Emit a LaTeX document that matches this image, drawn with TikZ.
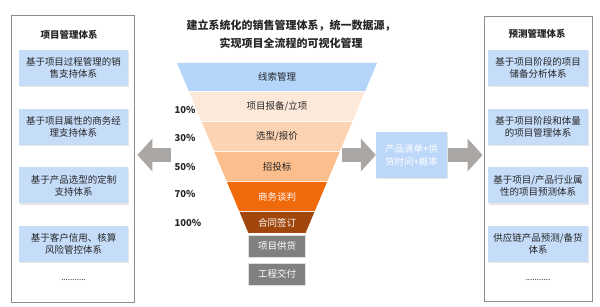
\documentclass[tikz,border=0pt]{standalone}
\usepackage{fontspec}
\setmainfont{Noto Sans CJK SC}
\usetikzlibrary{arrows.meta,positioning,shadows}

\definecolor{boxblue}{HTML}{C6DDFA}
\definecolor{midblue}{HTML}{BDD7F9}
\definecolor{layerA}{HTML}{B5D4F9}
\definecolor{layerB}{HTML}{FDE9DA}
\definecolor{layerC}{HTML}{FCD4B4}
\definecolor{layerD}{HTML}{FBBE8C}
\definecolor{layerE}{HTML}{F06A0C}
\definecolor{layerF}{HTML}{A1470D}
\definecolor{stepgray}{HTML}{808080}
\definecolor{arrowgray}{HTML}{A9A6A4}
\definecolor{framegray}{HTML}{8C8C8C}
\definecolor{textdark}{HTML}{262626}

\tikzset{
  panel/.style={draw=framegray, line width=0.9pt, fill=white, inner sep=0pt},
  sysbox/.style={fill=boxblue, align=center, inner sep=0pt, text=textdark,
    font=\fontsize{9.5pt}{12pt}\selectfont,
    drop shadow={shadow xshift=1pt, shadow yshift=-1.5pt, opacity=0.2}},
  paneltitle/.style={font=\fontsize{9.5pt}{12pt}\selectfont\bfseries, text=textdark},
  pct/.style={anchor=west, font=\fontsize{9.5pt}{11pt}\selectfont\bfseries, text=textdark},
  stagebox/.style={fill=stepgray, draw=white!75!gray, line width=0.8pt, text=white,
    minimum width=57pt, minimum height=22pt, inner sep=0pt,
    font=\fontsize{9.5pt}{12pt}\selectfont},
  bigarrow/.style={draw=arrowgray, line width=14pt,
    -{Triangle[length=15pt, width=33pt, line width=0pt]}},
}

\begin{document}
\begin{tikzpicture}[x=1pt, y=-1pt]
\useasboundingbox (0,0) rectangle (600,307);

% heading
\node[font=\fontsize{11pt}{18pt}\selectfont\bfseries, align=center, text=textdark] (head) at (291,34)
  {建立系统化的销售管理体系，统一数据源，\\实现项目全流程的可视化管理};

% left panel
\node[panel, minimum width=123pt, minimum height=287pt] (lpanel) at (72.5,158.5) {};
\node[paneltitle] (ltitle) at (69,35) {项目管理体系};
\node[sysbox, minimum width=109pt, minimum height=36pt] (l1) at (73.5,68) {基于项目过程管理的销\\售支持体系};
\node[sysbox, minimum width=109pt, minimum height=36pt] (l2) at (73.5,127) {基于项目属性的商务经\\理支持体系};
\node[sysbox, minimum width=109pt, minimum height=36pt] (l3) at (73.5,185.5) {基于产品选型的定制\\支持体系};
\node[sysbox, minimum width=109pt, minimum height=36pt] (l4) at (73.5,244) {基于客户信用、核算\\风险管控体系};
\node[font=\fontsize{8pt}{10pt}\selectfont, text=textdark] (ldots) at (73.5,280) {...........};

% right panel
\node[panel, minimum width=108pt, minimum height=285pt] (rpanel) at (538,158.5) {};
\node[paneltitle] (rtitle) at (537,34) {预测管理体系};
\node[sysbox, minimum width=100pt, minimum height=36pt] (r1) at (538,68) {基于项目阶段的项目\\储备分析体系};
\node[sysbox, minimum width=100pt, minimum height=36pt] (r2) at (538,127) {基于项目阶段和体量\\的项目管理体系};
\node[sysbox, minimum width=100pt, minimum height=36pt] (r3) at (538,185.5) {基于项目/产品行业属\\性的项目预测体系};
\node[sysbox, minimum width=100pt, minimum height=36pt] (r4) at (538,244) {供应链产品预测/备货\\体系};
\node[font=\fontsize{8pt}{10pt}\selectfont, text=textdark] (rdots) at (538,280) {...........};

% funnel
\foreach \top/\bot/\fc/\tc/\txt [count=\i] in {
    63/91/layerA/textdark/线索管理,
    92/121/layerB/textdark/{项目报备/立项},
    122/151/layerC/textdark/{选型/报价},
    152/181/layerD/textdark/招投标,
    182/211/layerE/white/商务谈判,
    212/233/layerF/white/合同签订}
{
  \pgfmathsetmacro\wt{100-0.42*(\top-63)}
  \pgfmathsetmacro\wb{100-0.42*(\bot-63)}
  \fill[\fc] (277-\wt,\top) -- (277+\wt,\top) -- (277+\wb,\bot) -- (277-\wb,\bot) -- cycle;
  \node[text=\tc, font=\fontsize{9.5pt}{12pt}\selectfont] (layer\i) at (277,{(\top+\bot)/2}) {\txt};
}
\node[stagebox] (supply) at (277,246) {项目供货};
\node[stagebox] (deliver) at (277,274) {工程交付};

% conversion rates
\node[pct] (p10) at (171,110) {10\%};
\node[pct] (p30) at (171,138) {30\%};
\node[pct] (p50) at (171,167) {50\%};
\node[pct] (p70) at (171,194) {70\%};
\node[pct] (p100) at (171,223) {100\%};

% middle box and arrows
\node[fill=midblue, text=white, align=center, inner sep=0pt, minimum width=71pt, minimum height=46pt,
  font=\fontsize{9.5pt}{13pt}\selectfont,
  drop shadow={shadow xshift=1pt, shadow yshift=-1.5pt, opacity=0.2}] (mid) at (411.5,155)
  {产品清单+供\\货时间+概率};
\coordinate (fout) at (342,155);
\coordinate (fleft) at (171,155);
\draw[bigarrow] (fout) -- (mid.west);
\draw[bigarrow] ([xshift=1pt]mid.east) -- ([xshift=-1pt]rpanel.west |- mid.east);
\draw[bigarrow] (fleft) -- ([xshift=3pt]lpanel.east |- fleft);
\end{tikzpicture}
\end{document}
